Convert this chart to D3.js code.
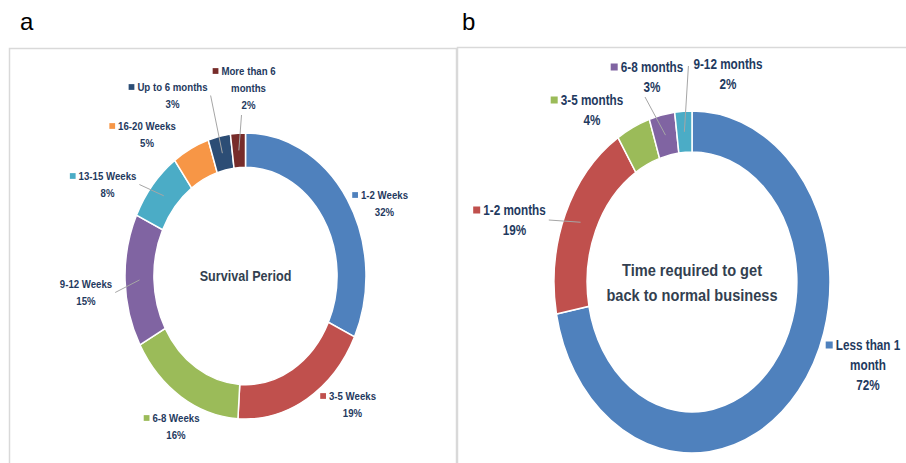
<!DOCTYPE html>
<html>
<head>
<meta charset="utf-8">
<script src="https://cdn.jsdelivr.net/npm/d3@7"></script>
<style>
  body { margin: 0; background: #fff; }
  text { font-family: "Liberation Sans", Arial, sans-serif; }
</style>
</head>
<body>
<svg id="chart" width="906" height="463"></svg>
<script>
'use strict';

// data: survival period (panel a)
const survivalCats = ["1-2 Weeks", "3-5 Weeks", "6-8 Weeks", "9-12 Weeks", "13-15 Weeks", "16-20 Weeks", "Up to 6 months", "More than 6 months"];
const survivalVals = [32, 19, 16, 15, 8, 5, 3, 2];
const survivalColors = ["#4f81bd", "#c0504d", "#9bbb59", "#8064a2", "#4bacc6", "#f79646", "#2c4d75", "#772c2a"];

// data: time to get back to normal business (panel b)
const recoveryCats = ["Less than 1 month", "1-2 months", "3-5 months", "6-8 months", "9-12 months"];
const recoveryVals = [72, 19, 4, 3, 2];
const recoveryColors = ["#4f81bd", "#c0504d", "#9bbb59", "#8064a2", "#4bacc6"];

const svg = d3.select("#chart");
const labelColor = "#1f3a60";
const centerColor = "#333f50";
const squeeze = 0.84;  // narrow the font a bit, looks closer to Calibri

// panel frames and letters
svg.append("rect").attr("x", 9.5).attr("y", 48.5).attr("width", 447).attr("height", 430)
  .attr("fill", "none").attr("stroke", "#d9d9d9").attr("stroke-width", 1.5);
svg.append("rect").attr("x", 457.5).attr("y", 47.5).attr("width", 460).attr("height", 430)
  .attr("fill", "none").attr("stroke", "#d9d9d9").attr("stroke-width", 1.5);
svg.append("text").attr("x", 20).attr("y", 30).style("font-size", "24px").text("a");
svg.append("text").attr("x", 462).attr("y", 30).style("font-size", "24px").text("b");

// squeezed, centered text; returns visible width
function narrowText(parent, x, y, str, size, color) {
  const t = parent.append("g").attr("transform", `translate(${x},${y}) scale(${squeeze},1)`)
    .append("text").attr("text-anchor", "middle").attr("y", size * 0.35)
    .style("font-size", size + "px").style("font-weight", "bold").attr("fill", color).text(str);
  return t.node().getComputedTextLength() * squeeze;
}

// draws an (elliptic) donut with labels
function donut(opt) {
  const pie = d3.pie().sort(null).value(d => d.v);
  const arcs = pie(opt.cats.map((c, i) => ({c: c, v: opt.vals[i], col: opt.colors[i]})));
  const arc = d3.arc().outerRadius(opt.ry).innerRadius(opt.ry * 0.76);
  const sx = opt.rx / opt.ry;

  const g = svg.append("g").attr("transform", `translate(${opt.cx},${opt.cy})`);
  g.append("g").attr("transform", `scale(${sx},1)`)
    .selectAll("path").data(arcs).enter().append("path")
    .attr("d", arc)
    .attr("fill", d => d.data.col)
    .attr("stroke", "#fff")
    .attr("stroke-width", 1.5)
    .attr("vector-effect", "non-scaling-stroke");

  // center title
  opt.center.forEach((t, i) => {
    narrowText(g, 0, (i - (opt.center.length - 1) / 2) * opt.centerLine, t, opt.centerSize, centerColor);
  });

  // labels
  arcs.forEach((a, i) => {
    const L = opt.labels[i];
    const lines = L.lines.concat([opt.vals[i] + "%"]);
    const lg = svg.append("g");
    let w0 = 0;
    lines.forEach((t, j) => {
      const w = narrowText(lg, L.x, L.y + j * opt.lineH, t, opt.fs, labelColor);
      if (j === 0) w0 = w;
    });
    if (L.marker !== false) {
      const s = opt.fs * 0.5;
      lg.append("rect").attr("x", L.x - w0 / 2 - s - 3).attr("y", L.y - s / 2)
        .attr("width", s).attr("height", s).attr("fill", a.data.col);
    }
    if (L.leader) {
      const c = arc.centroid(a);
      const p = [opt.cx + c[0] * sx, opt.cy + c[1]];
      let q;
      if (L.leader === "right") q = [L.x + w0 / 2 + 3, L.y + opt.lineH / 2];
      else if (L.leader === "left") q = [L.x - w0 / 2 - 5, L.y + 2];
      else q = [L.x - 7, L.y + (lines.length - 1) * opt.lineH + 10];
      svg.append("line").attr("x1", q[0]).attr("y1", q[1]).attr("x2", p[0]).attr("y2", p[1])
        .attr("stroke", "#a6a6a6").attr("stroke-width", 1);
    }
  });
}

donut({
  cats: survivalCats, vals: survivalVals, colors: survivalColors,
  cx: 245.5, cy: 276, rx: 120.5, ry: 143,
  fs: 11.5, lineH: 17,
  center: ["Survival Period"], centerSize: 15, centerLine: 18,
  labels: [
    {lines: ["1-2 Weeks"], x: 384.5, y: 195},
    {lines: ["3-5 Weeks"], x: 352.5, y: 396},
    {lines: ["6-8 Weeks"], x: 176, y: 418},
    {lines: ["9-12 Weeks"], x: 86, y: 284, marker: false, leader: "right"},
    {lines: ["13-15 Weeks"], x: 107.5, y: 176, leader: "right"},
    {lines: ["16-20 Weeks"], x: 147, y: 126},
    {lines: ["Up to 6 months"], x: 172.5, y: 87, leader: "right"},
    {lines: ["More than 6", "months"], x: 248.5, y: 71, leader: "below"}
  ]
});

donut({
  cats: recoveryCats, vals: recoveryVals, colors: recoveryColors,
  cx: 692, cy: 282, rx: 138, ry: 171,
  fs: 14, lineH: 20,
  center: ["Time required to get", "back to normal business"], centerSize: 17.4, centerLine: 25,
  labels: [
    {lines: ["Less than 1", "month"], x: 868, y: 345},
    {lines: ["1-2 months"], x: 514.5, y: 210, leader: "right"},
    {lines: ["3-5 months"], x: 592, y: 100},
    {lines: ["6-8 months"], x: 652, y: 67, leader: "below"},
    {lines: ["9-12 months"], x: 728, y: 64, marker: false, leader: "left"}
  ]
});
</script>
</body>
</html>
